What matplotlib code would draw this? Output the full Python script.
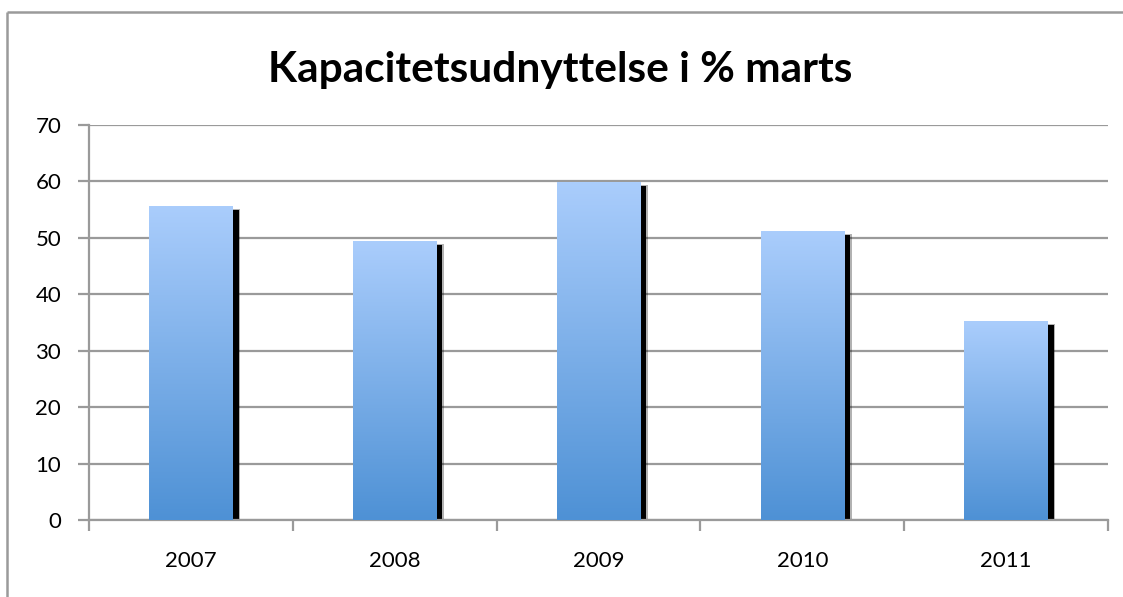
import matplotlib
matplotlib.use("Agg")
import matplotlib.pyplot as plt
import numpy as np
from matplotlib.patches import Rectangle
from matplotlib.lines import Line2D
from matplotlib.colors import LinearSegmentedColormap

# data
years = ["2007", "2008", "2009", "2010", "2011"]
values = [55.5, 49.3, 59.8, 51.1, 35.2]
y_ticks = [0, 10, 20, 30, 40, 50, 60, 70]

plt.rcParams['font.family'] = ['Lato', 'DejaVu Sans']

fig = plt.figure(figsize=(11.23, 5.97), dpi=100)
ax = fig.add_axes([89/1123, 77/597, 1019/1123, 395.5/597])

# outer chart border (only top and left edges fall inside the picture)
bx, by = 7/1123, (597 - 12)/597
fig.lines.append(Line2D([bx, bx], [-0.05, by], transform=fig.transFigure,
                        color="#9a9a9a", linewidth=1.8, solid_capstyle="butt"))
fig.lines.append(Line2D([bx, 1.05], [by, by], transform=fig.transFigure,
                        color="#9a9a9a", linewidth=1.8, solid_capstyle="butt"))

x = np.arange(len(years))
bar_w = 0.41
grad = LinearSegmentedColormap.from_list("bars", ["#4e91d5", "#aacdfc"])
img = np.linspace(0, 1, 256).reshape(-1, 1)

px_x = 1.0 / 203.8          # data units per pixel horizontally
px_y = 70.0 / 395.5         # data units per pixel vertically

for xi, v in zip(x, values):
    left = xi - bar_w / 2
    # shadow
    ax.add_patch(Rectangle((left + 7.5*px_x, 0), bar_w, v - 3*px_y,
                           facecolor="#000000", alpha=0.3, edgecolor="none", zorder=2))
    ax.add_patch(Rectangle((left + 6*px_x, 0), bar_w, v - 4*px_y,
                           facecolor="#000000", edgecolor="none", zorder=2))
    # gradient bar
    rect = Rectangle((left, 0), bar_w, v, facecolor="none", edgecolor="none", zorder=3)
    ax.add_patch(rect)
    im = ax.imshow(img, cmap=grad, extent=(left, left + bar_w, 0, v),
                   origin="lower", aspect="auto", zorder=3)
    im.set_clip_path(rect)

ax.set_xlim(-0.5, len(years) - 0.5)
ax.set_ylim(0, 70)
ax.set_yticks(y_ticks)
ax.set_xticks(x)
ax.set_xticklabels(years)
ax.set_xticks(np.arange(-0.5, len(years)), minor=True)

ax.yaxis.grid(True, color="#9a9a9a", linewidth=1.6, zorder=1)
ax.set_axisbelow(True)
for s in ["top", "right"]:
    ax.spines[s].set_visible(False)
for s in ["left", "bottom"]:
    ax.spines[s].set_color("#9a9a9a")
    ax.spines[s].set_linewidth(1.6)

ax.tick_params(axis="y", length=8, width=1.6, color="#9a9a9a", labelsize=16, pad=12)
ax.tick_params(axis="x", which="major", length=0, labelsize=16, pad=22)
ax.tick_params(axis="x", which="minor", length=8, width=1.6, color="#9a9a9a")

fig.text(0.499, 0.882, "Kapacitetsudnyttelse i % marts", ha="center", va="center",
         fontsize=30.5, fontweight="bold")

fig.savefig("out.png", dpi=100)
